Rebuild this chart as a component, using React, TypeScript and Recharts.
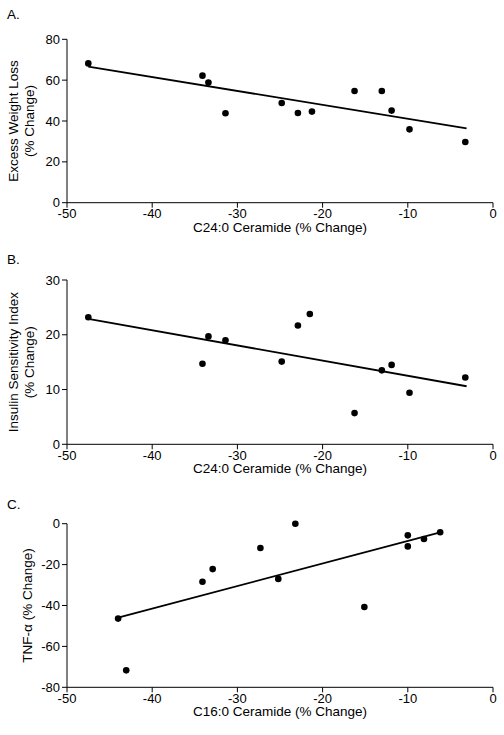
import React from 'react';
import { ScatterChart, Scatter, XAxis, YAxis, ReferenceLine } from 'recharts';

// Panel A: C24:0 ceramide vs excess weight loss
const c24ChangeA = [-47.5, -34.1, -33.4, -31.4, -24.8, -22.9, -21.25, -16.25, -13.05, -11.9, -9.8, -3.25];
const weightLoss = [68.2, 62.2, 58.8, 43.8, 48.8, 43.9, 44.6, 54.7, 54.7, 45.1, 35.9, 29.7];
const fitA = [{ x: -47.5, y: 66.6 }, { x: -3.1, y: 36.4 }];

// Panel B: C24:0 ceramide vs insulin sensitivity index
const c24ChangeB = [-47.5, -34.1, -33.4, -31.4, -24.8, -22.9, -21.5, -16.25, -13.05, -11.9, -9.8, -3.25];
const insulinSensitivity = [23.2, 14.7, 19.7, 19.0, 15.1, 21.7, 23.8, 5.7, 13.5, 14.5, 9.4, 12.2];
const fitB = [{ x: -47.5, y: 22.9 }, { x: -3.1, y: 10.6 }];

// Panel C: C16:0 ceramide vs TNF-alpha
const c16Change = [-44.0, -43.05, -34.1, -32.9, -27.3, -25.2, -23.2, -15.1, -10.0, -10.0, -8.1, -6.2];
const tnfAlpha = [-46.4, -71.7, -28.4, -22.2, -11.9, -27.0, 0, -40.7, -5.7, -11.1, -7.5, -4.2];
const fitC = [{ x: -44.0, y: -45.9 }, { x: -6.2, y: -4.2 }];

const xTicks = [-50, -40, -30, -20, -10, 0];
const yTicksA = [0, 20, 40, 60, 80];
const yTicksB = [0, 10, 20, 30];
const yTicksC = [-80, -60, -40, -20, 0];

const FONT = 'Arial, "Liberation Sans", Helvetica, sans-serif';

const zip = (xs: number[], ys: number[]) => xs.map((x, i) => ({ x, y: ys[i] }));

const Dot = (props: any) => <circle cx={props.cx} cy={props.cy} r={3.3} fill="#000" />;

const YLabel = ({ viewBox, lines }: any) => {
  const cy = viewBox.y + viewBox.height / 2;
  const xs = lines.length === 2 ? [13.5, 29.5] : [27];
  return (
    <g>
      {lines.map((t: string, i: number) => (
        <text
          key={i}
          x={xs[i]}
          y={cy}
          transform={`rotate(-90, ${xs[i]}, ${cy})`}
          textAnchor="middle"
          dominantBaseline="central"
          fontSize={13.5}
          fontFamily={FONT}
          fill="#000"
        >
          {t}
        </text>
      ))}
    </g>
  );
};

interface PanelProps {
  top: number;
  letter: string;
  xs: number[];
  ys: number[];
  fit: { x: number; y: number }[];
  yTicks: number[];
  yLabel: string[];
  xLabel: string;
  plotTop: number;
  plotBottom: number;
}

const Panel = ({ top, letter, xs, ys, fit, yTicks, yLabel, xLabel, plotTop, plotBottom }: PanelProps) => {
  const h = 245;
  const tickStyle = { fontSize: 13, fontFamily: FONT, fill: '#000' };
  return (
    <div style={{ position: 'absolute', left: 0, top, width: 504, height: h }}>
      <div style={{ position: 'absolute', left: 7, top: 7, fontFamily: FONT, fontSize: 13.5, color: '#000' }}>{letter}</div>
      <ScatterChart width={504} height={h} margin={{ top: plotTop, right: 11, left: 0, bottom: 0 }}>
        <XAxis
          type="number"
          dataKey="x"
          domain={[-50, 0]}
          ticks={xTicks}
          stroke="#000"
          tick={tickStyle}
          tickSize={5}
          tickMargin={1}
          height={h - plotBottom}
          label={{ value: xLabel, position: 'insideBottom', offset: h - plotBottom - 29, fontSize: 13.5, fontFamily: FONT, fill: '#000' }}
        />
        <YAxis
          type="number"
          dataKey="y"
          domain={[yTicks[0], yTicks[yTicks.length - 1]]}
          ticks={yTicks}
          stroke="#000"
          tick={tickStyle}
          tickSize={5}
          tickMargin={2}
          width={67}
          label={<YLabel lines={yLabel} />}
        />
        <ReferenceLine segment={fit} stroke="#000" strokeWidth={1.8} />
        <Scatter data={zip(xs, ys)} shape={<Dot />} isAnimationActive={false} />
      </ScatterChart>
    </div>
  );
};

export default function App() {
  return (
    <div style={{ position: 'absolute', left: 0, top: 0, width: 504, height: 735, background: '#fff' }}>
      <Panel
        top={0}
        letter="A."
        xs={c24ChangeA}
        ys={weightLoss}
        fit={fitA}
        yTicks={yTicksA}
        yLabel={['Excess Weight Loss', '(% Change)']}
        xLabel="C24:0 Ceramide (% Change)"
        plotTop={39.3}
        plotBottom={202.7}
      />
      <Panel
        top={245}
        letter="B."
        xs={c24ChangeB}
        ys={insulinSensitivity}
        fit={fitB}
        yTicks={yTicksB}
        yLabel={['Insulin Sensitivity Index', '(% Change)']}
        xLabel="C24:0 Ceramide (% Change)"
        plotTop={35}
        plotBottom={199.3}
      />
      <Panel
        top={490}
        letter="C."
        xs={c16Change}
        ys={tnfAlpha}
        fit={fitC}
        yTicks={yTicksC}
        yLabel={['TNF-α (% Change)']}
        xLabel="C16:0 Ceramide (% Change)"
        plotTop={33.7}
        plotBottom={197.3}
      />
    </div>
  );
}
